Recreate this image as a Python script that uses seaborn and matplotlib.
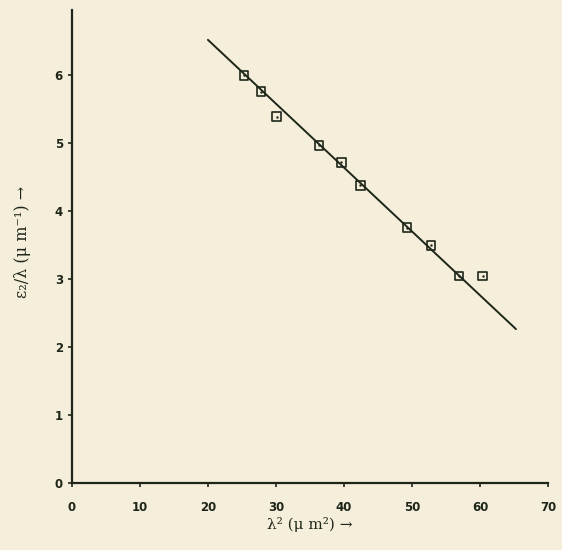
import numpy as np
import pandas as pd
import matplotlib
matplotlib.use("Agg")
import matplotlib.pyplot as plt
import seaborn as sns

# lambda^2 (um^2) and eps2/lambda (um^-1)
lam2 = [25.3, 27.8, 30.1, 36.3, 39.6, 42.4, 49.3, 52.8, 56.9, 60.4]
eps2_lam = [5.99, 5.75, 5.38, 4.96, 4.71, 4.37, 3.75, 3.49, 3.04, 3.04]

# straight-line fit drawn through the points
fit_x = [20.0, 65.3]
fit_y = [6.51, 2.26]

xticks = [0, 10, 20, 30, 40, 50, 60, 70]
yticks = [0, 1, 2, 3, 4, 5, 6]

paper = "#f5eedb"
ink = "#1e2619"

sns.set_style("ticks")
plt.rcParams['font.family'] = ['DejaVu Sans']

fig = plt.figure(figsize=(5.62, 5.5), dpi=100, facecolor=paper)
ax = fig.add_axes([0.128, 0.122, 0.847, 0.86])
ax.set_facecolor(paper)

pts = pd.DataFrame({"x": lam2, "y": eps2_lam})
fit = pd.DataFrame({"x": fit_x, "y": fit_y})

sns.lineplot(data=fit, x="x", y="y", color=ink, lw=1.4, ax=ax)
sns.scatterplot(data=pts, x="x", y="y", marker="s", s=38, facecolor="none",
                edgecolor=ink, linewidth=1.2, ax=ax, zorder=3)
sns.scatterplot(data=pts, x="x", y="y", marker="o", s=3, color=ink,
                linewidth=0, ax=ax, zorder=4)

ax.set_xlim(0, 70)
ax.set_ylim(0, 6.95)
ax.set_xticks(xticks)
ax.set_yticks(yticks)
ax.tick_params(axis="both", colors=ink, labelsize=8.5, length=3, width=1.2)
for lab in ax.get_xticklabels() + ax.get_yticklabels():
    lab.set_fontweight("bold")
ax.tick_params(axis="x", pad=10)

sns.despine(ax=ax)
ax.spines["left"].set_color(ink)
ax.spines["bottom"].set_color(ink)
ax.spines["left"].set_linewidth(1.6)
ax.spines["bottom"].set_linewidth(1.6)

ax.set_xlabel("λ² (μ m²) →", family="DejaVu Serif", fontsize=11, color=ink,
              labelpad=2)
ax.set_ylabel("ε₂/λ (μ m⁻¹) →", family="DejaVu Serif", fontsize=11.5,
              color=ink, labelpad=18)
ax.yaxis.set_label_coords(-0.085, 0.51)

fig.savefig("out.png", dpi=100, facecolor=paper)
